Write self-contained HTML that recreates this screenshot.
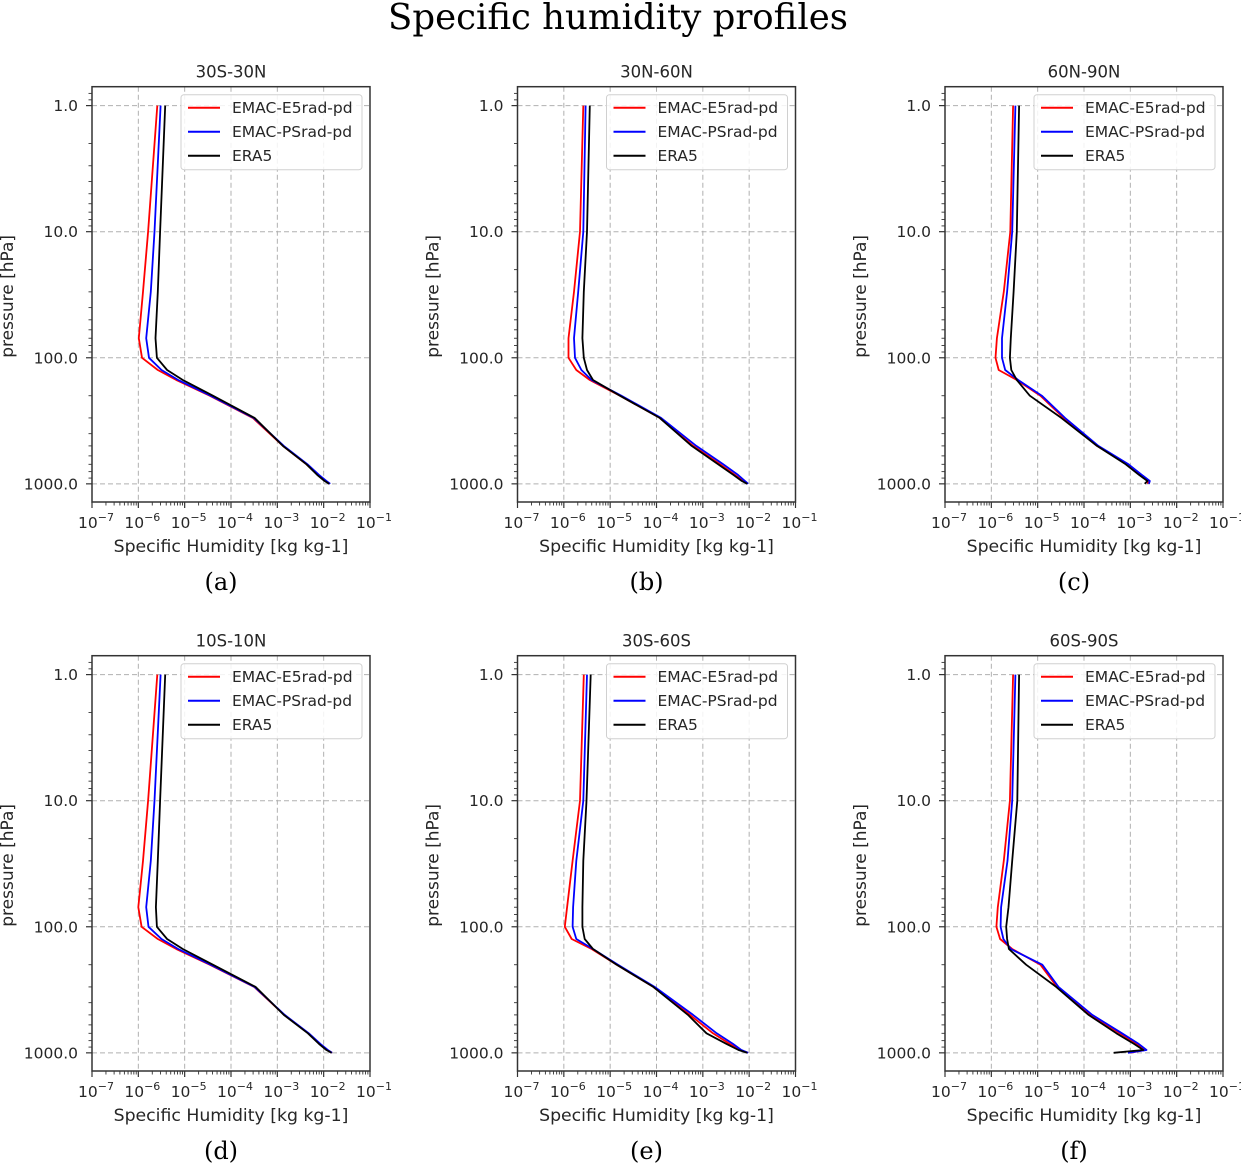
<!DOCTYPE html>
<html><head><meta charset="utf-8"><style>
body{margin:0;background:#fff;}
svg{display:block;font-family:"DejaVu Sans","Liberation Sans",sans-serif;}
</style></head><body>
<svg id="fig" width="1241" height="1167" viewBox="0 0 1241 1167">
<text x="618" y="29" text-anchor="middle" font-family="'DejaVu Serif','Liberation Serif',serif" font-size="35.5" fill="#000">Specific humidity profiles</text>
</svg>
<script>
// pressure levels (hPa)
const levels = [1, 10, 30, 70, 100, 125, 150, 200, 300, 500, 700, 850, 950, 1000];
const panelTitles = ["30S-30N","30N-60N","60N-90N","10S-10N","30S-60S","60S-90S"];
const panelLetters = ["(a)","(b)","(c)","(d)","(e)","(f)"];
const seriesNames = ["EMAC-E5rad-pd","EMAC-PSrad-pd","ERA5"];
const seriesColors = ["#ff0000","#0000ff","#000000"];
const xTickExp = [-7,-6,-5,-4,-3,-2,-1];
const yTickVals = [1, 10, 100, 1000];
const yTickLabels = ["1.0","10.0","100.0","1000.0"];
// log10 specific humidity per panel
const aRed   = [-5.59,-5.79,-5.90,-5.99,-5.92,-5.58,-5.18,-4.46,-3.53,-2.88,-2.37,-2.12,-1.96,-1.87];
const aBlue  = [-5.52,-5.65,-5.73,-5.83,-5.77,-5.50,-5.14,-4.44,-3.51,-2.86,-2.35,-2.10,-1.94,-1.86];
const aBlack = [-5.42,-5.53,-5.58,-5.63,-5.60,-5.38,-5.04,-4.39,-3.49,-2.88,-2.37,-2.14,-1.98,-1.88];
const bRed   = [-5.58,-5.65,-5.78,-5.90,-5.90,-5.73,-5.44,-4.79,-3.93,-3.21,-2.63,-2.31,-2.13,-2.04];
const bBlue  = [-5.53,-5.58,-5.69,-5.78,-5.76,-5.62,-5.40,-4.76,-3.90,-3.14,-2.56,-2.24,-2.09,-2.02];
const bBlack = [-5.44,-5.50,-5.57,-5.60,-5.57,-5.50,-5.37,-4.79,-3.93,-3.24,-2.67,-2.34,-2.16,-2.04];
const cRed   = [-5.53,-5.59,-5.73,-5.88,-5.91,-5.84,-5.45,-4.94,-4.44,-3.72,-3.07,-2.78,-2.62,-2.62];
const cBlue  = [-5.48,-5.55,-5.66,-5.77,-5.77,-5.70,-5.42,-4.91,-4.41,-3.69,-3.04,-2.75,-2.58,-2.60];
const cBlack = [-5.40,-5.45,-5.52,-5.58,-5.60,-5.57,-5.45,-5.17,-4.49,-3.72,-3.10,-2.81,-2.63,-2.69];
const dRed   = [-5.59,-5.79,-5.90,-6.00,-5.93,-5.58,-5.18,-4.46,-3.50,-2.85,-2.33,-2.08,-1.92,-1.82];
const dBlue  = [-5.52,-5.65,-5.73,-5.83,-5.78,-5.50,-5.14,-4.44,-3.49,-2.84,-2.32,-2.07,-1.91,-1.82];
const dBlack = [-5.42,-5.53,-5.58,-5.62,-5.60,-5.38,-5.04,-4.39,-3.47,-2.86,-2.34,-2.10,-1.94,-1.83];
const eRed   = [-5.57,-5.65,-5.81,-5.93,-5.98,-5.83,-5.40,-4.86,-4.07,-3.28,-2.78,-2.42,-2.20,-2.02];
const eBlue  = [-5.50,-5.58,-5.73,-5.80,-5.81,-5.73,-5.37,-4.83,-4.04,-3.21,-2.70,-2.35,-2.17,-2.02];
const eBlack = [-5.42,-5.51,-5.58,-5.60,-5.60,-5.55,-5.37,-4.86,-4.07,-3.32,-2.92,-2.49,-2.23,-2.04];
const fRed   = [-5.53,-5.60,-5.73,-5.86,-5.89,-5.81,-5.55,-4.94,-4.58,-3.86,-3.22,-2.86,-2.68,-3.00];
const fBlue  = [-5.48,-5.55,-5.65,-5.79,-5.80,-5.74,-5.58,-4.90,-4.55,-3.82,-3.18,-2.82,-2.65,-3.05];
const fBlack = [-5.40,-5.44,-5.55,-5.63,-5.68,-5.66,-5.62,-5.25,-4.60,-3.90,-3.30,-2.92,-2.72,-3.36];
const panelSeries = [[aRed,aBlue,aBlack],[bRed,bBlue,bBlack],[cRed,cBlue,cBlack],[dRed,dBlue,dBlack],[eRed,eBlue,eBlack],[fRed,fBlue,fBlack]];

const NS="http://www.w3.org/2000/svg";
const svg=document.getElementById('fig');
function mk(tag,attrs,parent,text){const e=document.createElementNS(NS,tag);for(const k in attrs)e.setAttribute(k,attrs[k]);if(text!==undefined)e.textContent=text;(parent||svg).appendChild(e);return e;}

const lefts=[92,517.5,945], tops=[86.7,655.7];
const W=278, H=415.3;
const xMin=-7, xMax=-1, yMin=-0.15, yMax=3.144;
const tc="#262626";

panelTitles.forEach((title,pi)=>{
  const L=lefts[pi%3], T=tops[Math.floor(pi/3)];
  const g=mk('g',{});
  
  
  const sx=v=>L+(v-xMin)/(xMax-xMin)*W;
  const sy=p=>T+(Math.log10(p)-yMin)/(yMax-yMin)*H;
  xTickExp.forEach(e=>{const l=mk('line',{x1:sx(e),x2:sx(e),y1:T,y2:T+H,stroke:'#b0b0b0','stroke-width':1,'stroke-dasharray':'5,3'},g);
    
    });
  yTickVals.forEach(v=>{const l=mk('line',{x1:L,x2:L+W,y1:sy(v),y2:sy(v),stroke:'#b0b0b0','stroke-width':1,'stroke-dasharray':'5,3'},g);
    
    });
  panelSeries[pi].forEach((arr,si)=>{
    const pts=arr.map((q,i)=>sx(q).toFixed(1)+','+sy(levels[i]).toFixed(1)).join(' ');
    const pl=mk('polyline',{points:pts,fill:'none',stroke:seriesColors[si],'stroke-width':1.8,'stroke-linejoin':'round'},g);
    
    
  });
  const sp=mk('rect',{x:L,y:T,width:W,height:H,fill:'none',stroke:'#333','stroke-width':1.5},g);
  
  
  xTickExp.forEach((e,k)=>{
    mk('line',{x1:sx(e),x2:sx(e),y1:T+H,y2:T+H+6,stroke:'#333','stroke-width':1.2},g);
    if(k<xTickExp.length-1){for(let m=2;m<10;m++){const xv=e+Math.log10(m);mk('line',{x1:sx(xv),x2:sx(xv),y1:T+H,y2:T+H+3.5,stroke:'#333','stroke-width':0.9},g);}}
    const t=mk('text',{x:sx(e)+4,y:T+H+26,'text-anchor':'middle','font-size':15.5,fill:tc},g);
    
    
    mk('tspan',{},t,'10');
    mk('tspan',{dy:-7,'font-size':11},t,'\u2212'+(-e));
  });
  yTickVals.forEach((v,k)=>{
    mk('line',{x1:L-6,x2:L,y1:sy(v),y2:sy(v),stroke:'#333','stroke-width':1.2},g);
    const t=mk('text',{x:L-14,y:sy(v)+5.5,'text-anchor':'end','font-size':15.5,fill:tc},g,yTickLabels[k]);
    
    
  });
  for(let d=-1;d<=3;d++){for(let m=2;m<10;m++){const lp=d+Math.log10(m);if(lp<yMin||lp>yMax)continue;mk('line',{x1:L-3.5,x2:L,y1:sy(Math.pow(10,lp)),y2:sy(Math.pow(10,lp)),stroke:'#333','stroke-width':0.9},g);}}
  const ti=mk('text',{x:L+W/2,y:T-9,'text-anchor':'middle','font-size':16.5,fill:tc},g,title);
  
  
  const xl=mk('text',{x:L+W/2,y:T+H+50,'text-anchor':'middle','font-size':17.3,fill:tc},g,'Specific Humidity [kg kg-1]');
  
  
  const yx=L-79, yy=T+H/2+2;
  const yl=mk('text',{x:yx,y:yy,'text-anchor':'middle','font-size':17,fill:tc,transform:'rotate(-90 '+yx+' '+yy+')'},g,'pressure [hPa]');
  
  
  const pl=mk('text',{x:L+W/2-10,y:T+H+88,'text-anchor':'middle','font-size':24,fill:'#000','font-family':"'DejaVu Serif','Liberation Serif',serif"},g,panelLetters[pi]);
  
  
  const lg=mk('g',{},g);
  
  
  const lx=L+89, ly=T+8;
  mk('rect',{x:lx,y:ly,width:181,height:75,rx:3,fill:'#fff','fill-opacity':0.85,stroke:'#d0d0d0','stroke-width':1},lg);
  seriesNames.forEach((n,si)=>{
    const yv=ly+13+si*24;
    const le=mk('g',{},lg);
    
    
    mk('line',{x1:lx+7,x2:lx+39,y1:yv,y2:yv,stroke:seriesColors[si],'stroke-width':2},le);
    mk('text',{x:lx+51,y:yv+5.5,'font-size':15.5,fill:tc},le,n);
  });
});
</script>
</body></html>
